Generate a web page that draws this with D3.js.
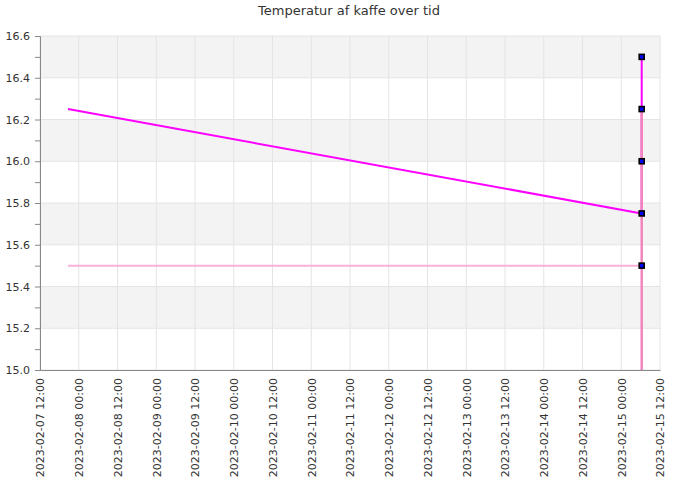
<!DOCTYPE html>
<html>
<head>
<meta charset="utf-8">
<script src="https://cdn.jsdelivr.net/npm/d3@7"></script>
<style>
  body { margin: 0; background: #fff; }
  text { font-family: "DejaVu Sans", sans-serif; fill: #333; }
</style>
</head>
<body>
<div id="chart"></div>
<script>
// x tick labels (every 12 hours)
const tickLabels = [
  "2023-02-07 12:00", "2023-02-08 00:00", "2023-02-08 12:00", "2023-02-09 00:00",
  "2023-02-09 12:00", "2023-02-10 00:00", "2023-02-10 12:00", "2023-02-11 00:00",
  "2023-02-11 12:00", "2023-02-12 00:00", "2023-02-12 12:00", "2023-02-13 00:00",
  "2023-02-13 12:00", "2023-02-14 00:00", "2023-02-14 12:00", "2023-02-15 00:00",
  "2023-02-15 12:00"
];
const yTicks = [15.0, 15.2, 15.4, 15.6, 15.8, 16.0, 16.2, 16.4, 16.6];

// measurements
const slopeTimes = ["2023-02-07 20:40", "2023-02-15 06:20", "2023-02-15 06:20"];
const slopeTemps = [16.25, 15.75, 16.5];
const flatTimes = ["2023-02-07 20:40", "2023-02-15 06:20"];
const flatTemps = [15.5, 15.5];
const dropTimes = ["2023-02-15 06:20", "2023-02-15 06:20"];
const dropTemps = [16.25, 14.5];
const markerTimes = ["2023-02-15 06:20", "2023-02-15 06:20", "2023-02-15 06:20", "2023-02-15 06:20", "2023-02-15 06:20"];
const markerTemps = [16.5, 16.25, 16.0, 15.75, 15.5];

const parse = d3.timeParse("%Y-%m-%d %H:%M");
const zip = (ts, vs) => ts.map((t, i) => ({ t: parse(t), v: vs[i] }));

const margin = { top: 36, right: 40, bottom: 130, left: 40 };
const width = 700 - margin.left - margin.right;
const height = 500 - margin.top - margin.bottom;

const svg = d3.select("#chart").append("svg")
  .attr("width", 700)
  .attr("height", 500);

svg.append("text")
  .attr("x", 349)
  .attr("y", 15)
  .attr("text-anchor", "middle")
  .style("font-size", "13px")
  .text("Temperatur af kaffe over tid");

const g = svg.append("g")
  .attr("transform", `translate(${margin.left},${margin.top})`);

const ticks = tickLabels.map(parse);
const x = d3.scaleTime()
  .domain([ticks[0], ticks[ticks.length - 1]])
  .range([0, width]);
const y = d3.scaleLinear()
  .domain([15.0, 16.6])
  .range([height, 0]);

// alternating bands
const bands = yTicks.slice(0, -1).filter((d, i) => i % 2 === 1);
g.selectAll(".band").data(bands).enter().append("rect")
  .attr("class", "band")
  .attr("x", 0)
  .attr("width", width)
  .attr("y", d => y(d + 0.2))
  .attr("height", d => y(d) - y(d + 0.2))
  .attr("fill", "#f3f3f3");

// grid
g.selectAll(".hgrid").data(yTicks).enter().append("line")
  .attr("x1", 0).attr("x2", width)
  .attr("y1", d => y(d)).attr("y2", d => y(d))
  .attr("stroke", "#e4e4e4");
g.selectAll(".vgrid").data(ticks).enter().append("line")
  .attr("x1", d => x(d)).attr("x2", d => x(d))
  .attr("y1", 0).attr("y2", height)
  .attr("stroke", "#e4e4e4");

// axes
const yAxis = d3.axisLeft(y)
  .tickValues(d3.range(15.0, 16.65, 0.1))
  .tickSize(5)
  .tickFormat(d => Math.round(d * 10) % 2 === 0 ? d3.format(".1f")(d) : "");
const yg = g.append("g").call(yAxis);
yg.select(".domain").attr("stroke", "#888");
yg.selectAll(".tick line").attr("stroke", "#888");
yg.selectAll(".tick text").style("font-size", "11px").attr("x", -10);

const xAxis = d3.axisBottom(x)
  .tickValues(ticks)
  .tickSize(0)
  .tickFormat(d3.timeFormat("%Y-%m-%d %H:%M"));
const xg = g.append("g")
  .attr("transform", `translate(0,${height})`)
  .call(xAxis);
xg.select(".domain").attr("stroke", "#888");
xg.selectAll(".tick text")
  .style("font-size", "11px")
  .attr("text-anchor", "end")
  .attr("transform", "rotate(-90)")
  .attr("x", -8)
  .attr("y", 0)
  .attr("dy", "0.35em");

// lines
g.append("clipPath").attr("id", "clip")
  .append("rect").attr("width", width).attr("height", height);

const line = d3.line().x(d => x(d.t)).y(d => y(d.v));
const plot = g.append("g").attr("clip-path", "url(#clip)");

plot.append("path")
  .datum(zip(slopeTimes, slopeTemps))
  .attr("d", line)
  .attr("fill", "none")
  .attr("stroke", "#ff00ff")
  .attr("stroke-width", 2);
plot.append("path")
  .datum(zip(dropTimes, dropTemps))
  .attr("d", line)
  .attr("fill", "none")
  .attr("stroke", "#f284bf")
  .attr("stroke-width", 2.5);
plot.append("path")
  .datum(zip(flatTimes, flatTemps))
  .attr("d", line)
  .attr("fill", "none")
  .attr("stroke", "#f8b0d8")
  .attr("stroke-width", 2);

// markers
g.selectAll(".marker").data(zip(markerTimes, markerTemps)).enter().append("rect")
  .attr("class", "marker")
  .attr("x", d => x(d.t) - 2.5)
  .attr("y", d => y(d.v) - 2.5)
  .attr("width", 5)
  .attr("height", 5)
  .attr("fill", "#0000ff")
  .attr("stroke", "#000")
  .attr("stroke-width", 1.6);
</script>
</body>
</html>
